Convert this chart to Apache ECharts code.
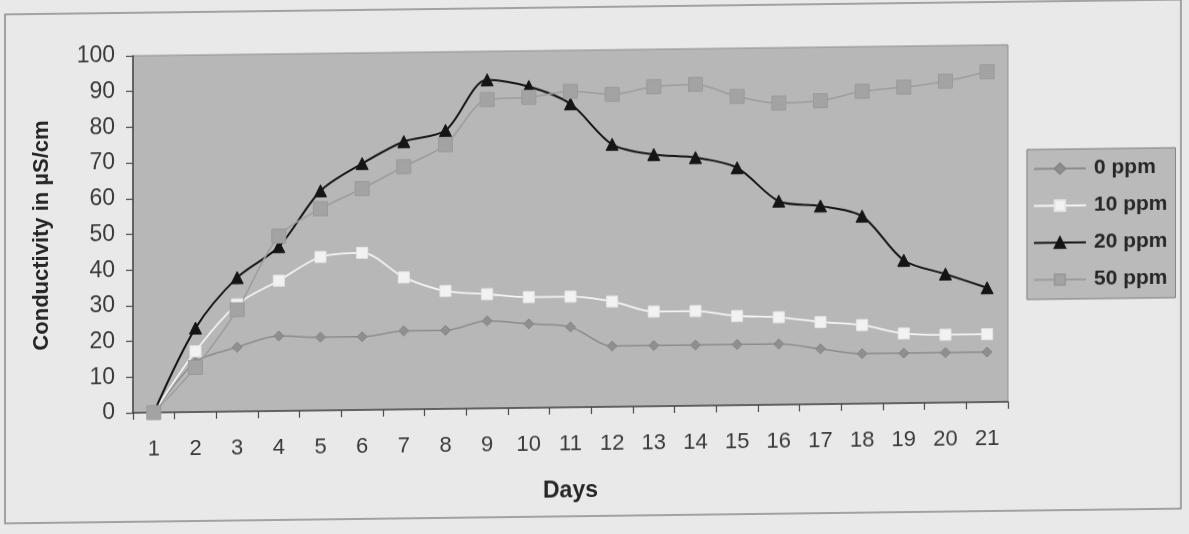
<!DOCTYPE html>
<html>
<head>
<meta charset="utf-8">
<script src="https://cdn.jsdelivr.net/npm/echarts@6/dist/echarts.min.js"></script>
<style>
  html, body { margin: 0; padding: 0; background: #e9e9e9; overflow: hidden; }
  #chart { width: 1189px; height: 534px; transform: skewY(-0.72deg); transform-origin: 594px 267px; }
</style>
</head>
<body>
<div id="chart"></div>
<script>
// Data
const days = ['1','2','3','4','5','6','7','8','9','10','11','12','13','14','15','16','17','18','19','20','21'];
const ppm0  = [0, 14, 18, 21, 20.5, 20.5, 22, 22, 24.5, 23.5, 22.5, 17, 17, 17, 17, 17, 15.5, 14, 14, 14, 14];
const ppm10 = [0, 17, 30, 36.5, 43, 44, 37, 33, 32, 31, 31, 29.5, 26.5, 26.5, 25, 24.5, 23, 22, 19.5, 19, 19];
const ppm20 = [0, 23.5, 37.5, 46, 61.5, 69, 75, 78, 92, 90, 85, 73.5, 70.5, 69.5, 66.5, 57, 55.5, 52.5, 40, 36, 32];
const ppm50 = [0, 12.5, 28.5, 49, 56.5, 62, 68, 74, 86.5, 87, 88.5, 87.5, 89.5, 90, 86.5, 84.5, 85, 87.5, 88.5, 90, 92.5];
const yTicks = { min: 0, max: 100, interval: 10 };

const FONT = '"Liberation Sans", Arial, Helvetica, sans-serif';
const chart = echarts.init(document.getElementById('chart'), null, { renderer: 'canvas' });

function lineSeries(name, data, lineColor, lineWidth, symbol, symbolSize, markerColor, markerBorder) {
  return {
    name: name,
    type: 'line',
    data: data,
    smooth: 0.3,
    symbol: symbol,
    symbolSize: symbolSize,
    showAllSymbol: true,
    lineStyle: { color: lineColor, width: lineWidth },
    itemStyle: { color: markerColor, borderColor: markerBorder, borderWidth: 1 },
    emphasis: { disabled: true },
    animation: false
  };
}

chart.setOption({
  backgroundColor: '#e9e9e9',
  animation: false,
  textStyle: { fontFamily: FONT },
  graphic: [{
    type: 'rect',
    shape: { x: 5, y: 7, width: 1176, height: 509 },
    style: { fill: 'none', stroke: '#8a8a8a', lineWidth: 1.5 },
    z: -1
  }],
  grid: {
    left: 133, right: 181, top: 50, bottom: 127,
    show: true,
    backgroundColor: '#b7b7b7',
    borderColor: '#8f8f8f',
    borderWidth: 1
  },
  legend: {
    orient: 'vertical',
    left: 1027,
    top: 155,
    padding: [9, 8, 9, 6],
    itemWidth: 52,
    itemHeight: 13,
    itemGap: 16,
    backgroundColor: '#bababa',
    borderColor: '#7d7d7d',
    borderWidth: 1,
    borderRadius: 0,
    textStyle: { fontFamily: FONT, fontSize: 21, fontWeight: 'bold', color: '#262626', padding: [0, 0, 0, 3] },
    data: ['0 ppm', '10 ppm', '20 ppm', '50 ppm']
  },
  xAxis: {
    type: 'category',
    data: days,
    boundaryGap: true,
    name: 'Days',
    nameLocation: 'middle',
    nameGap: 72,
    nameTextStyle: { fontFamily: FONT, fontSize: 23, fontWeight: 'bold', color: '#262626' },
    axisLine: { lineStyle: { color: '#4a4a4a', width: 1.5 } },
    axisTick: { show: true, length: 7, inside: false, lineStyle: { color: '#4a4a4a', width: 1.2 } },
    axisLabel: { fontFamily: FONT, fontSize: 22, color: '#3a3a3a', margin: 26, interval: 0 },
    splitLine: { show: false }
  },
  yAxis: {
    type: 'value',
    min: yTicks.min,
    max: yTicks.max,
    interval: yTicks.interval,
    name: 'Conductivity in µS/cm',
    nameLocation: 'middle',
    nameGap: 80,
    nameTextStyle: { fontFamily: FONT, fontSize: 22, fontWeight: 'bold', color: '#262626' },
    axisLine: { show: true, lineStyle: { color: '#4a4a4a', width: 1.5 } },
    axisTick: { show: true, length: 7, inside: false, lineStyle: { color: '#4a4a4a', width: 1.2 } },
    axisLabel: { fontFamily: FONT, fontSize: 23, color: '#3a3a3a', margin: 18 },
    splitLine: { show: false }
  },
  series: [
    lineSeries('0 ppm',  ppm0,  '#8c8c8c', 1.5, 'diamond',  10, '#8f8f8f', '#858585'),
    lineSeries('10 ppm', ppm10, '#f4f4f4', 1.8, 'rect',     11, '#f2f2f2', '#e6e6e6'),
    lineSeries('20 ppm', ppm20, '#151515', 2,   'triangle', 12, '#151515', '#151515'),
    lineSeries('50 ppm', ppm50, '#9c9c9c', 1.5, 'rect',     14, '#a3a3a3', '#9a9a9a')
  ]
});
</script>
</body>
</html>
